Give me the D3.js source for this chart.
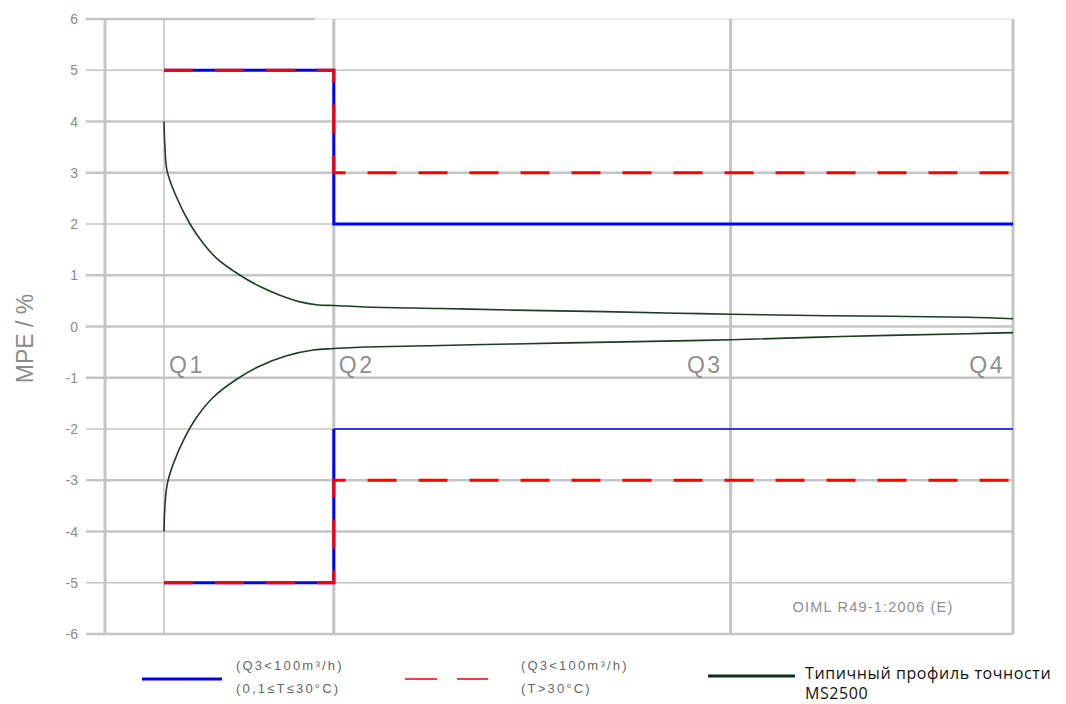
<!DOCTYPE html>
<html>
<head>
<meta charset="utf-8">
<script src="https://cdn.jsdelivr.net/npm/d3@7"></script>
<style>
	body { margin: 0; background: #fff; }
	svg { display: block; }
</style>
</head>
<body>
<svg id="chart" width="1066" height="704"></svg>
<script>

// flow positions (relative units 0..100) of the reference points
const qLabels = ['Q1', 'Q2', 'Q3', 'Q4'];
const qPos = [6.5, 25.2, 68.9, 100];

// MPE limits: first value Q1..Q2, second value Q2..Q4
const blueLimits = [5, 2];   // Q3<100 m3/h, 0.1<=T<=30
const redLimits = [5, 3];    // Q3<100 m3/h, T>30

// typical MS2500 accuracy profile
const upperX = [6.5, 6.6, 6.83, 7.71, 9.36, 10.83, 12.3, 14.87, 17.07, 19.27, 21.48, 23.46, 25.2, 28.6, 37, 45, 55, 63, 68.9, 80, 95, 100];
const upperY = [4.0, 3.5, 3.04, 2.59, 2.0, 1.62, 1.33, 1.0, 0.78, 0.61, 0.48, 0.42, 0.41, 0.38, 0.35, 0.32, 0.29, 0.26, 0.24, 0.21, 0.18, 0.15];
const lowerX = [6.5, 6.6, 6.86, 7.52, 8.81, 10.1, 11.93, 14.5, 17.07, 20.01, 22.94, 25.2, 28.6, 37, 45, 54, 63, 68.9, 80, 95, 100];
const lowerY = [-4.0, -3.5, -3.07, -2.68, -2.16, -1.77, -1.38, -1.03, -0.77, -0.57, -0.46, -0.43, -0.4, -0.37, -0.34, -0.31, -0.28, -0.26, -0.2, -0.14, -0.12];

const yTicks = d3.range(-6, 7);

let svg = d3.select('#chart');

let x = d3.scaleLinear().domain([0, 100]).range([105, 1013]);
let y = d3.scaleLinear().domain([-6, 6]).range([634, 19]);

const grid = '#c4c4c4';

// horizontal grid lines with ticks sticking out on the left
svg.append('g')
	.selectAll('line')
	.data(yTicks)
	.join('line')
	.attr('x1', 86)
	.attr('x2', d => d == 6 ? x(23.1) : x(100))
	.attr('y1', d => y(d))
	.attr('y2', d => y(d))
	.attr('stroke', grid)
	.attr('stroke-width', d => (Math.abs(d) == 2 || Math.abs(d) == 5) ? 1.6 : 2.4);
// thin top border beyond that
svg.append('line')
	.attr('x1', x(23.1)).attr('x2', x(100))
	.attr('y1', y(6)).attr('y2', y(6))
	.attr('stroke', '#dcdcdc')
	.attr('stroke-width', 1.2);

// y tick labels
svg.append('g')
	.selectAll('text')
	.data(yTicks)
	.join('text')
	.attr('x', 78)
	.attr('y', d => y(d) + 5)
	.attr('text-anchor', 'end')
	.attr('font-family', 'Liberation Sans, Arial, sans-serif')
	.attr('font-size', 14)
	.attr('fill', '#8a8a8a')
	.text(d => d);

// vertical lines: left border, Q lines
let vlines = [0].concat(qPos);
svg.append('g')
	.selectAll('line')
	.data(vlines)
	.join('line')
	.attr('x1', d => x(d))
	.attr('x2', d => x(d))
	.attr('y1', y(6))
	.attr('y2', y(-6))
	.attr('stroke', grid)
	.attr('stroke-width', d => d == qPos[0] ? 1.6 : 3);

// axis title
svg.append('text')
	.attr('transform', `translate(33, ${y(0) + 12}) rotate(-90)`)
	.attr('text-anchor', 'middle')
	.attr('font-family', 'Liberation Sans, Arial, sans-serif')
	.attr('font-size', 23)
	.attr('fill', '#8a8a8a')
	.text('MPE / %');

// Q labels
svg.append('g')
	.selectAll('text')
	.data(qLabels)
	.join('text')
	.attr('x', (d, i) => i < 2 ? x(qPos[i]) + 5 : x(qPos[i]) - 8)
	.attr('y', 373)
	.attr('text-anchor', (d, i) => i < 2 ? 'start' : 'end')
	.attr('font-family', 'Liberation Sans, Arial, sans-serif')
	.attr('font-size', 23)
	.attr('letter-spacing', 2.5)
	.attr('fill', '#8e8e8e')
	.text(d => d);

// watermark
svg.append('text')
	.attr('x', 873)
	.attr('y', 612)
	.attr('text-anchor', 'middle')
	.attr('font-family', 'Liberation Sans, Arial, sans-serif')
	.attr('font-size', 14.5)
	.attr('letter-spacing', 1.2)
	.attr('fill', '#8e8e8e')
	.text('OIML R49-1:2006 (E)');

// limit step paths
function limitPath(limits, sign) {
	return [
		[qPos[0], sign * limits[0]],
		[qPos[1], sign * limits[0]],
		[qPos[1], sign * limits[1]],
		[qPos[3], sign * limits[1]]
	];
}
let line = d3.line().x(d => x(d[0])).y(d => y(d[1]));

svg.append('path')
	.attr('d', line(limitPath(blueLimits, 1)))
	.attr('fill', 'none')
	.attr('stroke', '#0000ff')
	.attr('stroke-width', 3);
svg.append('path')
	.attr('d', line(limitPath(blueLimits, -1).slice(0, 3)))
	.attr('fill', 'none')
	.attr('stroke', '#0000ff')
	.attr('stroke-width', 3);
svg.append('path')
	.attr('d', line(limitPath(blueLimits, -1).slice(2)))
	.attr('fill', 'none')
	.attr('stroke', '#0000ff')
	.attr('stroke-width', 1.6);

for (let s of [1, -1]) {
	svg.append('path')
		.attr('d', line(limitPath(redLimits, s)))
		.attr('fill', 'none')
		.attr('stroke', '#ff0000')
		.attr('stroke-width', 3)
		.attr('stroke-dasharray', '29,22');
}

// accuracy profile curves
let curve = d3.line()
	.x(d => x(d[0]))
	.y(d => y(d[1]))
	.curve(d3.curveCatmullRom.alpha(0.5));
let profile = [[upperX, upperY], [lowerX, lowerY]];
for (let [xs, ys] of profile) {
	svg.append('path')
		.attr('d', curve(xs.map((v, i) => [v, ys[i]])))
		.attr('fill', 'none')
		.attr('stroke', '#1c3d22')
		.attr('stroke-width', 1.6);
}

// legend
let lg = svg.append('g');
lg.append('line')
	.attr('x1', 142).attr('x2', 222)
	.attr('y1', 679).attr('y2', 679)
	.attr('stroke', '#0000ff').attr('stroke-width', 3);
lg.append('line')
	.attr('x1', 405).attr('x2', 488)
	.attr('y1', 679).attr('y2', 679)
	.attr('stroke', '#ff3b3b').attr('stroke-width', 2.2)
	.attr('stroke-dasharray', '32,20');
lg.append('line')
	.attr('x1', 708).attr('x2', 795)
	.attr('y1', 676).attr('y2', 676)
	.attr('stroke', '#0d2f14').attr('stroke-width', 3);

let legendText = [
	{x: 236, lines: ['(Q3<100m³/h)', '(0,1≤T≤30°C)']},
	{x: 521, lines: ['(Q3<100m³/h)', '(T>30°C)']}
];
for (let item of legendText) {
	item.lines.forEach((t, i) => {
		lg.append('text')
			.attr('x', item.x)
			.attr('y', 670 + i * 23)
			.attr('font-family', 'Liberation Sans, Arial, sans-serif')
			.attr('font-size', 13)
			.attr('letter-spacing', 2.2)
			.attr('fill', '#666')
			.text(t);
	});
}
['Типичный профиль точности', 'MS2500'].forEach((t, i) => {
	lg.append('text')
		.attr('x', 805)
		.attr('y', 679 + i * 20)
		.attr('font-family', 'Open Sans, Noto Sans, sans-serif')
		.attr('font-size', 16)
		.attr('letter-spacing', 0.6)
		.attr('fill', '#111')
		.text(t);
});

</script>
</body>
</html>
